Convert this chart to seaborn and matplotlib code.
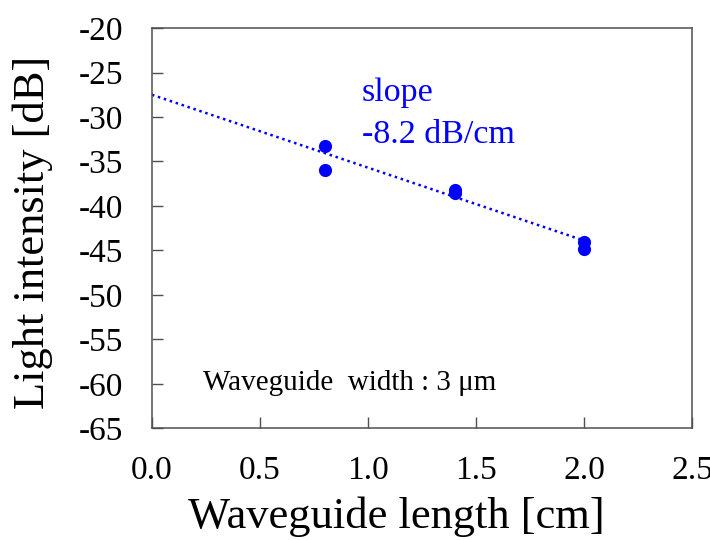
import numpy as np
import pandas as pd
import matplotlib
matplotlib.use("Agg")
import matplotlib.pyplot as plt
import seaborn as sns

# measured points
length_cm = [0.8, 0.8, 1.4, 1.4, 2.0, 2.0]
intensity_db = [-33.3, -36.0, -38.2, -38.5, -44.1, -44.8]

# fitted line end points (slope -8.2 dB/cm)
fit_x = [0.0, 2.0]
fit_y = [-27.5, -43.9]

x_ticks = [0.0, 0.5, 1.0, 1.5, 2.0, 2.5]
y_ticks = [-65, -60, -55, -50, -45, -40, -35, -30, -25, -20]

df = pd.DataFrame({"length": length_cm, "intensity": intensity_db})
fit = pd.DataFrame({"length": fit_x, "intensity": fit_y})

sns.set_style("ticks")
plt.rcParams["font.family"] = ["Liberation Serif", "DejaVu Serif"]
plt.rcParams["axes.unicode_minus"] = False
plt.rcParams["text.color"] = "black"
plt.rcParams["axes.labelcolor"] = "black"
plt.rcParams["xtick.labelcolor"] = "black"
plt.rcParams["ytick.labelcolor"] = "black"

fig, ax = plt.subplots(figsize=(7.1, 5.4), dpi=100)
fig.subplots_adjust(left=0.214, right=0.975, bottom=0.207, top=0.948)

sns.lineplot(x="length", y="intensity", data=fit, ax=ax, color="blue",
             linestyle=(0, (1, 1.5)), linewidth=1.8)
sns.scatterplot(x="length", y="intensity", data=df, ax=ax, color="blue",
                s=90, edgecolor="blue", linewidth=0, zorder=3)

ax.set_xlim(0, 2.5)
ax.set_ylim(-65, -20)
ax.set_xticks(x_ticks)
ax.set_yticks(y_ticks)
ax.set_xticklabels([f"{v:.1f}" for v in x_ticks])
ax.set_yticklabels([str(v) for v in y_ticks])
ax.tick_params(direction="in", length=8, width=1, color="#505050",
               labelsize=24, top=False, right=False)
ax.tick_params(axis="x", pad=20)
ax.tick_params(axis="y", pad=21)
for s in ax.spines.values():
    s.set_color("#505050")
    s.set_linewidth(1.1)

ax.set_xlabel("Waveguide length [cm]", fontsize=32)
ax.set_ylabel("Light intensity [dB]", fontsize=32)
ax.xaxis.set_label_coords(0.452, -0.17)
ax.yaxis.set_label_coords(-0.183, 0.49)

ax.text(0.972, -27.3, "slope", color="blue", fontsize=24.5, ha="left", va="center")
ax.text(0.972, -32.0, "-8.2 dB/cm", color="blue", fontsize=24.5, ha="left", va="center")
ax.text(0.236, -59.9, "Waveguide  width : 3 \u03bcm", color="black", fontsize=21,
        ha="left", va="center")

fig.savefig("out.png", dpi=100)
